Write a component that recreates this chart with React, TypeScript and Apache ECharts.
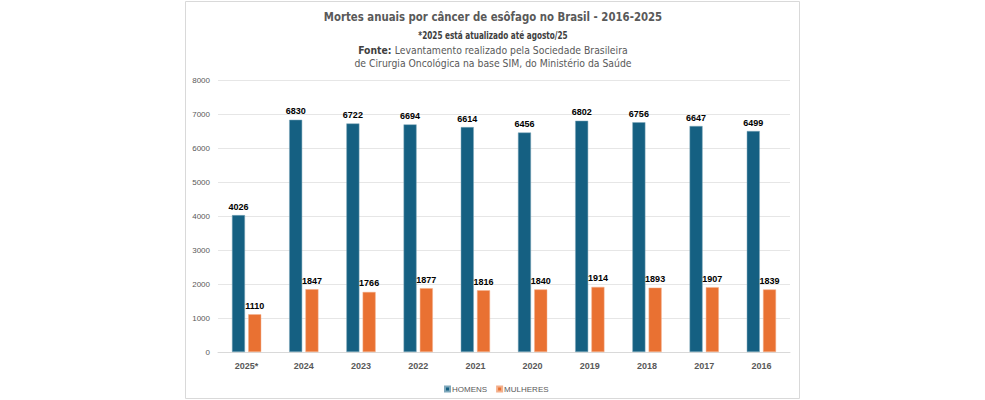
import React, { useEffect, useRef } from "react";
import * as echarts from "echarts";

const categories = ["2025*", "2024", "2023", "2022", "2021", "2020", "2019", "2018", "2017", "2016"];
const homens = [4026, 6830, 6722, 6694, 6614, 6456, 6802, 6756, 6647, 6499];
const mulheres = [1110, 1847, 1766, 1877, 1816, 1840, 1914, 1893, 1907, 1839];
const seriesNames = ["HOMENS", "MULHERES"];
const titleText = "Mortes anuais por câncer de esôfago no Brasil - 2016-2025";
const subtitleText = "*2025 está atualizado até agosto/25";
const sourceLabel = "Fonte:";
const sourceLine1 = " Levantamento realizado pela Sociedade Brasileira";
const sourceLine2 = "de Cirurgia Oncológica na base SIM, do Ministério da Saúde";

const NARROW = "'DejaVu Sans Condensed', 'DejaVu Sans', sans-serif";
const SANS = "'Liberation Sans', 'Roboto', sans-serif";

export default function App() {
  const ref = useRef<HTMLDivElement>(null);
  useEffect(() => {
    if (!ref.current) return;
    const chart = echarts.init(ref.current, undefined, { renderer: "svg" });
    const label = {
      show: true,
      position: "top" as const,
      distance: 4,
      color: "#000000",
      fontWeight: "bold" as const,
      fontSize: 9,
      fontFamily: SANS,
    };
    const cx = 493;
    chart.setOption({
      animation: false,
      backgroundColor: "#ffffff",
      graphic: [
        {
          type: "rect",
          shape: { x: 185.5, y: 1.5, width: 614, height: 397 },
          style: { fill: "#ffffff", stroke: "#d9d9d9", lineWidth: 1 },
          z: -10,
          silent: true,
        },
        {
          type: "text",
          x: cx,
          y: 17,
          scaleX: 0.87,
          style: {
            text: titleText,
            align: "center",
            verticalAlign: "middle",
            fontFamily: NARROW,
            fontSize: 13,
            fontWeight: "bold",
            fill: "#595959",
          },
        },
        {
          type: "text",
          x: cx,
          y: 35,
          scaleX: 0.74,
          style: {
            text: subtitleText,
            align: "center",
            verticalAlign: "middle",
            fontFamily: NARROW,
            fontSize: 11,
            fontWeight: "bold",
            fill: "#404040",
          },
        },
        {
          type: "text",
          x: cx,
          y: 50,
          scaleX: 0.94,
          style: {
            text: "{b|" + sourceLabel + "}{r|" + sourceLine1 + "}",
            align: "center",
            verticalAlign: "middle",
            rich: {
              b: { fontFamily: NARROW, fontSize: 11, fontWeight: "bold", fill: "#404040" },
              r: { fontFamily: NARROW, fontSize: 11, fontWeight: "normal", fill: "#595959" },
            },
          },
        },
        {
          type: "text",
          x: cx,
          y: 63,
          scaleX: 0.94,
          style: {
            text: sourceLine2,
            align: "center",
            verticalAlign: "middle",
            fontFamily: NARROW,
            fontSize: 11,
            fontWeight: "normal",
            fill: "#595959",
          },
        },
      ],
      legend: {
        data: seriesNames,
        left: 439,
        top: 380,
        itemWidth: 5,
        itemHeight: 5,
        itemGap: 9,
        icon: "rect",
        textStyle: { fontFamily: SANS, fontSize: 8, color: "#595959", padding: [0, 0, 0, -3] },
      },
      grid: { left: 218, right: 195, top: 80, bottom: 48 },
      xAxis: {
        type: "category",
        data: categories,
        axisLine: { lineStyle: { color: "#d9d9d9" } },
        axisTick: { show: false },
        axisLabel: { fontFamily: SANS, fontSize: 9, fontWeight: "bold", color: "#595959", margin: 9 },
      },
      yAxis: {
        type: "value",
        min: 0,
        max: 8000,
        interval: 1000,
        axisLine: { show: false },
        axisTick: { show: false },
        splitLine: { lineStyle: { color: "#e6e6e6" } },
        axisLabel: {
          fontFamily: SANS,
          fontSize: 8,
          color: "#595959",
          margin: 8,
          formatter: (v: number) => String(v),
        },
      },
      series: [
        {
          name: seriesNames[0],
          type: "bar",
          data: homens,
          barWidth: 13,
          barGap: "25%",
          itemStyle: { color: "#156082", borderColor: "#7fa8bb", borderWidth: 0.5 },
          label,
        },
        {
          name: seriesNames[1],
          type: "bar",
          data: mulheres,
          barWidth: 13,
          barGap: "25%",
          itemStyle: { color: "#e97132", borderColor: "#f4b08c", borderWidth: 0.5 },
          label,
        },
      ],
    });
    return () => chart.dispose();
  }, []);
  return (
    <div
      ref={ref}
      style={{ position: "absolute", left: 0, top: 0, width: 985, height: 400 }}
    />
  );
}
